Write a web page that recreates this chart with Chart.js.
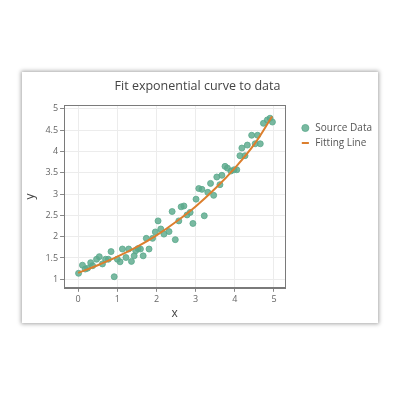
<!DOCTYPE html>
<html><head><meta charset="utf-8">
<script src="https://cdn.jsdelivr.net/npm/chart.js@4/dist/chart.umd.min.js"></script>
<style>
html,body{margin:0;padding:0;background:#fff;width:400px;height:400px;overflow:hidden}
#box{position:absolute;left:22px;top:72px;width:356px;height:251px;background:#fff;box-shadow:0 0 4px 1px rgba(0,0,0,0.35)}
canvas{display:block}
</style></head>
<body>
<div id="box"><canvas id="c" width="356" height="251"></canvas></div>
<script>
const titleText = "Fit exponential curve to data";
const seriesNames = ["Source Data", "Fitting Line"];
const srcX = [0.01,0.11,0.18,0.24,0.32,0.37,0.47,0.54,0.62,0.70,0.77,0.84,0.92,1.00,1.07,1.13,1.22,1.29,1.36,1.43,1.47,1.53,1.59,1.66,1.74,1.81,1.90,1.97,2.04,2.11,2.19,2.32,2.40,2.48,2.57,2.63,2.70,2.78,2.86,2.93,3.01,3.08,3.16,3.22,3.31,3.38,3.46,3.54,3.62,3.67,3.75,3.81,3.90,3.98,4.05,4.13,4.18,4.26,4.32,4.43,4.52,4.58,4.65,4.73,4.83,4.90,4.96];
const srcY = [1.14,1.33,1.24,1.26,1.39,1.32,1.47,1.53,1.36,1.47,1.47,1.65,1.06,1.47,1.41,1.71,1.51,1.71,1.42,1.55,1.67,1.72,1.71,1.55,1.96,1.71,1.96,2.11,2.37,2.18,2.06,2.12,2.59,1.93,2.37,2.70,2.72,2.51,2.57,2.31,2.88,3.13,3.11,2.49,3.04,3.25,2.97,3.40,3.22,3.44,3.65,3.61,3.54,3.57,3.57,3.90,4.08,3.90,4.15,4.38,4.18,4.38,4.18,4.66,4.74,4.78,4.69];
const fitX = [0,0.5,1,1.5,2,2.5,3,3.5,4,4.5,4.95];
const fitY = [1.15,1.33,1.53,1.76,2.03,2.35,2.71,3.13,3.61,4.17,4.82];
const xTicks = [0,1,2,3,4,5];
const xTickLabels = ['0','1','2','3','4','5'];
const yTicks = [1,1.5,2,2.5,3,3.5,4,4.5,5];
const yTickLabels = ['1','1.5','2','2.5','3','3.5','4','4.5','5'];

const frame = {id:'frame',
  afterLayout(c){ if(c.legend){c.legend.left+=10;c.legend.right+=10;} },
  afterDraw(c){const a=c.chartArea,x=c.ctx;x.save();x.strokeStyle='#7a7a7a';x.lineWidth=1;x.strokeRect(Math.round(a.left)+0.5,Math.round(a.top)+0.5,Math.round(a.right-a.left),Math.round(a.bottom-a.top));x.restore();}};
const FONT = "'Open Sans', sans-serif";
new Chart(document.getElementById('c'), {
  type:'scatter',
  data:{datasets:[
    {label:seriesNames[0], data:srcX.map((v,i)=>({x:v,y:srcY[i]})), backgroundColor:'rgba(92,170,140,0.82)', borderColor:'rgba(92,170,140,0.82)', pointRadius:3, pointStyle:'circle', order:2},
    {label:seriesNames[1], type:'line', data:fitX.map((v,i)=>({x:v,y:fitY[i]})), borderColor:'#dc7f2e', backgroundColor:'#dc7f2e', borderWidth:2, pointRadius:0, pointStyle:'line', tension:0.4, fill:false, order:1}
  ]},
  options:{
    responsive:false, animation:false,
    layout:{padding:{left:1,right:6,top:0,bottom:2}},
    plugins:{
      title:{display:true,text:titleText,color:'#444',font:{family:FONT,size:12.5,weight:'normal'},padding:{top:7,bottom:11}},
      legend:{position:'right',align:'start',
        title:{display:true,text:' ',font:{size:10},padding:{top:34,bottom:0}},
        labels:{usePointStyle:true,boxWidth:12,boxHeight:5,color:'#555',font:{family:FONT,size:10},padding:5,
          sort:(a,b)=>a.datasetIndex-b.datasetIndex}},
      tooltip:{enabled:false}
    },
    scales:{
      x:{type:'linear',min:-0.36,max:5.29,
        afterBuildTicks:s=>{s.ticks=xTicks.map(v=>({value:v}));},
        grid:{color:'#ececec',tickColor:'#888',tickLength:4},border:{color:'#7a7a7a'},
        ticks:{color:'#666',font:{family:FONT,size:9},padding:2,callback:(v,i)=>xTickLabels[i]},
        title:{display:true,text:'x',color:'#444',font:{family:FONT,size:12},padding:{top:0,bottom:0}}},
      y:{type:'linear',min:0.8,max:5.09,
        afterBuildTicks:s=>{s.ticks=yTicks.map(v=>({value:v}));},
        grid:{color:'#ececec',tickColor:'#888',tickLength:4},border:{color:'#7a7a7a'},
        ticks:{color:'#666',font:{family:FONT,size:9},padding:2,callback:(v,i)=>yTickLabels[i]},
        title:{display:true,text:'y',color:'#444',font:{family:FONT,size:12},padding:{top:0,bottom:6}}}
    }
  },
  plugins:[frame]
});
</script>
</body></html>
